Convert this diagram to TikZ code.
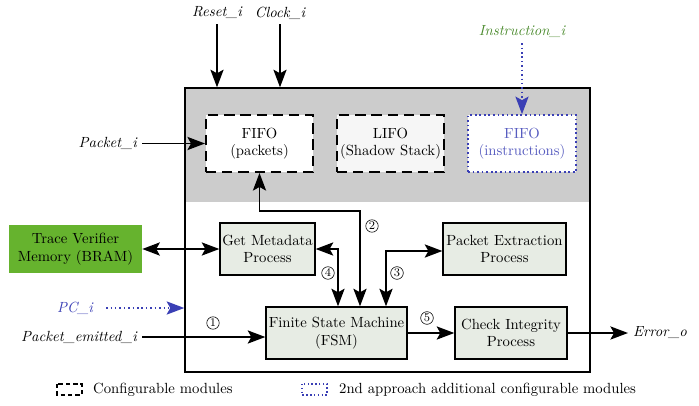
\documentclass[tikz,border=0pt]{standalone}
\usepackage{amsmath,amssymb}
\usetikzlibrary{arrows.meta}

\definecolor{tvgreen}{HTML}{66B32E}
\definecolor{procfill}{HTML}{E7ECE4}
\definecolor{bandgray}{HTML}{CCCCCC}
\definecolor{lifofill}{HTML}{F6F6F6}
\definecolor{apblue}{HTML}{3A3FB5}
\definecolor{insgreen}{HTML}{4A8A2C}

\tikzset{
  module/.style={draw, line width=1.3pt, dash pattern=on 7pt off 4pt, fill=white,
    minimum width=72.8pt, minimum height=38.8pt, align=center, inner sep=1pt},
  addmodule/.style={draw=apblue, line width=1.1pt, dash pattern=on 1.2pt off 1.9pt,
    fill=white, text=apblue!85, minimum width=73.4pt, minimum height=38.8pt,
    align=center, inner sep=1pt},
  process/.style={draw, line width=0.9pt, fill=procfill, minimum height=35.4pt,
    align=center, inner sep=1pt},
  sig/.style={font=\itshape},
  num/.style={circle, draw, thin, inner sep=0.6pt, font=\footnotesize},
  tip/.style={-{Stealth[length=12pt,width=9pt,inset=2.5pt]}},
  link/.style={line width=1pt, tip},
  dlink/.style={line width=1pt, {Stealth[length=12pt,width=9pt,inset=2.5pt]}-{Stealth[length=12pt,width=9pt,inset=2.5pt]}},
  bluelink/.style={apblue, line width=1pt, dotted, tip}
}

\begin{document}
\begin{tikzpicture}[x=0.68pt, y=-0.68pt]
  \useasboundingbox (0,0) rectangle (699,405);

  % Core block with the shaded storage band
  \fill[bandgray] (185,88) rectangle (590,202);
  \node[draw, line width=1pt, minimum width=275.4pt, minimum height=193.1pt] (core) at (387.5,230) {};

  % Storage modules
  \node[module] (fifop) at (259.5,143.5) {FIFO\\(packets)};
  \node[module, fill=lifofill] (lifo) at (390.5,143.5) {LIFO\\(Shadow Stack)};
  \node[addmodule] (fifoi) at (522,143.5) {FIFO\\(instructions)};

  % Processes
  \node[process, minimum width=64.6pt] (meta) at (267.5,249) {Get Metadata\\Process};
  \node[process, minimum width=83.6pt] (pext) at (504.5,249) {Packet Extraction\\Process};
  \node[process, minimum width=95.9pt] (fsm) at (336.5,333) {Finite State Machine\\(FSM)};
  \node[process, minimum width=76.2pt] (check) at (511,333) {Check Integrity\\Process};

  % External memory
  \node[fill=tvgreen, minimum width=90.4pt, minimum height=32pt, align=center, inner sep=1pt]
    (tvm) at (75.5,249) {Trace Verifier\\Memory (BRAM)};

  % Input and output signals
  \node[sig] (reset) at (217,13) {Reset\_i};
  \node[sig] (clock) at (280,13) {Clock\_i};
  \node[sig, text=insgreen] (instr) at (522,32) {Instruction\_i};
  \node[sig, anchor=east] (packet) at (142,143.5) {Packet\_i};
  \node[sig, text=apblue] (pc) at (75,308) {PC\_i};
  \node[sig, anchor=east] (pemit) at (142,337) {Packet\_emitted\_i};
  \node[sig, anchor=west] (erro) at (628,333) {Error\_o};

  \draw[link] (reset) -- (reset |- core.north);
  \draw[link] (clock) -- (clock |- core.north);
  \draw[bluelink] (instr) -- (fifoi.north);
  \draw[link] (packet) -- (fifop.west);
  \draw[bluelink] (pc.east) ++(8,0) -- (pc -| core.west);
  \draw[link] (pemit) -- (pemit -| fsm.west);
  \draw[link] (check.east) -- (erro.west);
  \draw[dlink] (tvm.east) -- (meta.west);

  % Internal connections
  \coordinate (c2) at (360,211);
  \coordinate (c3) at (386,251);
  \coordinate (c4) at (338,249);
  \draw[dlink] (fifop.south) |- (c2) -- (c2 |- fsm.north);
  \draw[dlink] (meta.east) -- (c4) -- (c4 |- fsm.north);
  \draw[dlink] (c3 |- fsm.north) -- (c3) -- (c3 -| pext.west);
  \draw[link] (fsm.east) -- (check.west);

  % Step numbers
  \node[num] (n1) at (213,323) {1};
  \node[num] (n2) at (372,226) {2};
  \node[num] (n3) at (397,273) {3};
  \node[num] (n4) at (328,273) {4};
  \node[num] (n5) at (427,318) {5};

  % Legend
  \draw[line width=0.8pt, dash pattern=on 3pt off 2pt] (57,384) rectangle (82,395);
  \node[anchor=west] (leg1) at (88,389.5) {Configurable modules};
  \draw[apblue, line width=0.8pt, dash pattern=on 1pt off 1.6pt] (302,384) rectangle (327,395);
  \node[anchor=west] (leg2) at (334,389.5) {2nd approach additional configurable modules};
\end{tikzpicture}
\end{document}
